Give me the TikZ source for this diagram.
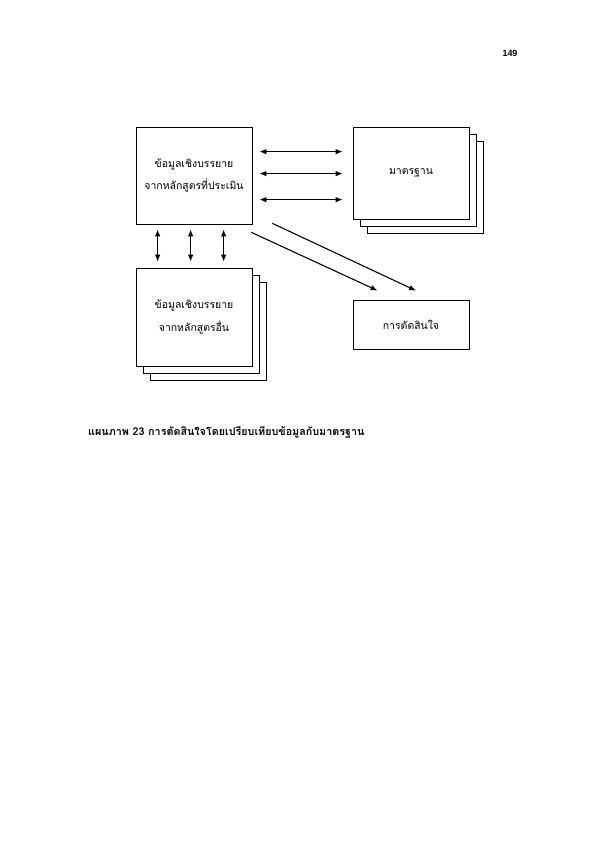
\documentclass[tikz,border=0pt]{standalone}
\usepackage{fontspec}
\setmainfont{Liberation Sans}
\newfontfamily\thaifont[Script=Thai]{Loma}
\usetikzlibrary{arrows.meta,shadows}

\begin{document}
\begin{tikzpicture}[
        x=1bp, y=-1bp,
        font=\thaifont\fontsize{10.5}{23}\selectfont,
        data box/.style={draw, fill=white, line width=0.7pt, align=center, minimum width=116bp},
        stack box/.style={data box, double copy shadow={shadow xshift=7bp, shadow yshift=-7bp, draw, fill=white}},
        link/.style={line width=1.1pt, {Latex[length=7bp,width=5.5bp]}-{Latex[length=7bp,width=5.5bp]}},
        flow/.style={line width=1.1pt, -{Latex[length=7bp,width=5.5bp]}},
    ]
    \useasboundingbox (0,0) rectangle (595,842);

    % หมายเลขหน้า
    \node[font=\bfseries\fontsize{9}{11}\selectfont] (page) at (510,53) {149};

    % กล่องข้อมูล
    \node[data box, minimum height=97bp] (evaluated) at (194,175.5)
        {ข้อมูลเชิงบรรยาย\\จากหลักสูตรที่ประเมิน};
    \node[stack box, minimum height=92bp] (standard) at (411,173) {มาตรฐาน};
    \node[stack box, minimum height=98bp] (others) at (194,317)
        {ข้อมูลเชิงบรรยาย\\จากหลักสูตรอื่น};
    \node[data box, minimum height=49bp] (decision) at (411,324.5) {การตัดสินใจ};

    % ลูกศรสองทางระหว่างข้อมูลกับมาตรฐาน
    \foreach \dy in {25,47,73} {
        \draw[link, shorten <=7bp, shorten >=10bp]
            ([yshift=-\dy bp]evaluated.north east) -- ([yshift=-\dy bp]standard.north west |- evaluated.north east);
    }

    % ลูกศรสองทางระหว่างหลักสูตรที่ประเมินกับหลักสูตรอื่น
    \foreach \dx in {22,55,88} {
        \draw[link, shorten <=5bp, shorten >=6bp]
            ([xshift=\dx bp]evaluated.south west) -- ([xshift=\dx bp]others.north west);
    }

    % ลูกศรไปสู่การตัดสินใจ
    \draw[flow] ([xshift=-1bp,yshift=-8bp]evaluated.south east) -- ([xshift=25bp,yshift=9bp]decision.north west);
    \draw[flow] ([xshift=20bp,yshift=1bp]evaluated.south east) -- ([xshift=5bp,yshift=9bp]decision.north);

    % คำบรรยายภาพ
    \node[anchor=west, inner sep=0pt, font=\thaifont\bfseries\fontsize{10.8}{12}\selectfont] (caption) at (88,432)
        {แผนภาพ 23 การตัดสินใจโดยเปรียบเทียบข้อมูลกับมาตรฐาน};
\end{tikzpicture}
\end{document}
